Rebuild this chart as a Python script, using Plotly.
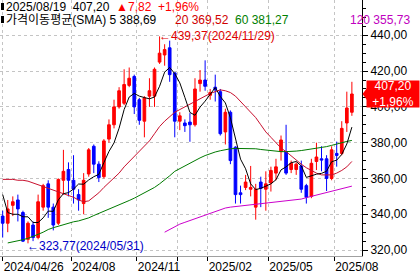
import plotly.graph_objects as go
import pandas as pd

# ---------------- data (weekly candles, 2024/04/26 .. 2025/08/19) ----------------
dates = [d.strftime("%Y/%m/%d") for d in pd.date_range("2024-04-26", periods=69, freq="7D")] + ["2025/08/19"]

opens = [339, 335, 345, 348, 341, 326, 334, 327, 344, 357,
         344, 335, 359, 365, 359, 351, 346, 362.5, 378, 368,
         361, 382, 390, 400, 402, 412, 417, 404, 392, 406,
         406, 425, 429, 433, 419, 392, 391, 391.5, 390, 413,
         415, 406.5, 411, 408.5, 386, 397, 377.5, 352, 355, 354,
         344, 358, 354, 357.5, 363, 375, 375, 365, 365, 367,
         356, 350, 369.5, 371, 371, 360, 374, 374, 391, 397]
highs = [342, 348, 350, 351, 342, 336, 336, 351, 357, 359,
         346, 360, 376, 369, 373, 354, 363, 377, 379, 369.6,
         382, 393, 404, 411, 421, 422, 418, 405, 406, 416,
         422, 439.37, 435, 437, 419, 397, 393, 396.5, 416, 420.6,
         426, 410, 418, 410, 399, 398, 378, 356, 362, 367,
         357, 361, 364, 366.6, 371, 384, 390, 370, 369, 370,
         357, 371, 380, 378, 373, 378, 380.6, 392, 408.5, 414]
lows = [327, 330, 339, 336, 324.5, 323.77, 325, 326, 342, 338,
        331, 334, 351, 350, 346, 342, 340, 361, 363, 358,
        360, 380, 388, 399, 401, 411, 396, 390, 383, 400,
        400, 424, 423, 414, 383, 387, 386, 380.5, 389, 408.5,
        409, 404, 403, 384, 379, 368, 346, 346, 353.5, 350,
        337, 344, 342, 352.7, 359, 370, 362, 363, 362, 352,
        346, 349, 364.7, 364, 353, 359, 366.6, 373, 386, 395]
closes = [335, 343, 347, 343, 325, 335, 327, 347, 356, 344,
          334, 359.5, 364, 359, 354, 348, 359, 376, 368, 360.5,
          381, 390, 400, 409, 412.5, 416, 400, 392.5, 405, 409,
          421, 430, 432, 418, 392, 395, 389.5, 390, 410, 415,
          411.5, 408, 409.5, 385, 397, 370, 351, 351, 358, 355,
          354, 354.5, 357, 364.5, 366.5, 381.5, 363, 368.5, 368, 354,
          349.5, 368.5, 372, 370.3, 360, 376, 372.87, 388, 399.38, 407.2]

# moving averages (SMA5 head read, rest from closes)
ma5_head = [351, 341, 340, 340]
ma20 = [359.5, 359.5, 359.5, 359, 359, 358.5, 357.5, 356.5, 355.5, 354.5,
        353.5, 352.5, 351.5, 350.5, 349.5, 348, 347, 347.5, 349.5, 352,
        355, 357.5, 360, 363, 366.5, 369.5, 372.5, 375, 378, 381,
        385, 389, 392, 394.5, 397, 398.5, 400, 401.5, 403, 404.5,
        406, 407.5, 408.5, 409.5, 409, 408, 406, 403, 400.5, 397.5,
        394, 390, 386, 383, 380, 377, 375, 372.5, 370, 368,
        366, 364.5, 363, 362, 362, 362, 363, 364.5, 366.5, 369.52]
ma60 = [None, 324, 324.5, 325, 325.8, 326.6, 327.5, 328.8, 330, 331.5,
        332.5, 333.3, 334.5, 335.2, 335.8, 336.3, 337, 338, 339.3, 340.5,
        341.5, 342.5, 343.8, 345, 346.3, 347.7, 349, 350.5, 352, 353.6,
        355, 357, 359, 361.5, 364, 365.5, 367, 368.8, 370.3, 371.5,
        372.8, 374, 374.8, 375.5, 376.2, 376.6, 376.8, 376.8, 376.8, 376.8,
        376.6, 376.2, 375.8, 375.5, 375.2, 375, 375, 375, 375.3, 375.6,
        376, 376.4, 376.8, 377.2, 377.8, 378.5, 379.3, 380, 380.7, 381.27]
ma120 = [None] * 32 + [330, 331.5, 333, 334.5, 335.5, 336.5, 337.5, 338.5,
        339.5, 340.5, 341.5, 342.5, 343.5, 344, 344.3, 344.6, 344.9, 345.2,
        345.5, 345.8, 346, 346.3, 346.6, 347, 347.3, 347.6, 348, 348.5,
        349.3, 350, 350.8, 351.5, 352.2, 353, 353.7, 354.3, 355, 355.73]

tick_labels = ["2024/04/26", "2024/08", "2024/11", "", "2025/02", "2025/05", "2025/08"]
tick_index = [0, 14, 27, 35, 41, 53, 66]
y_ticks = [320, 340, 360, 380, 400, 420, 440]

# ---------------- derived ----------------
idx = list(range(len(closes)))
ma5 = ma5_head + pd.Series(closes).rolling(5).mean().round(2).tolist()[4:]
tick_pos = [tick_index[0]] + [t - 0.5 for t in tick_index[1:]]

PW, PH = 362, 256  # plot area size in px
def px(x):
    return x / PW
def py(y):
    return 1 - y / PH

FONT = "Liberation Sans, Noto Sans CJK KR, sans-serif"

fig = go.Figure()
fig.add_trace(go.Candlestick(
    x=idx, open=opens, high=highs, low=lows, close=closes,
    increasing=dict(line=dict(color="#FF0000", width=1), fillcolor="#FF0000"),
    decreasing=dict(line=dict(color="#0000FF", width=1), fillcolor="#0000FF"),
    whiskerwidth=0, hoverinfo="skip", text=dates))
fig.add_trace(go.Scatter(x=idx, y=ma120, mode="lines", line=dict(color="#CC00CC", width=1), hoverinfo="skip"))
fig.add_trace(go.Scatter(x=idx, y=ma60, mode="lines", line=dict(color="#007A00", width=1), hoverinfo="skip"))
fig.add_trace(go.Scatter(x=idx, y=ma20, mode="lines", line=dict(color="#C8102E", width=1), hoverinfo="skip"))
fig.add_trace(go.Scatter(x=idx, y=ma5, mode="lines", line=dict(color="#000000", width=1), hoverinfo="skip"))

last_close = closes[-1]
chg = closes[-1] - closes[-2]
pct = chg / closes[-2] * 100
fmt = lambda v: f"{v:.2f}".replace(".", ",")
nb = "\u00a0"

hi_i = highs.index(max(highs))
lo_i = lows.index(min(lows))

annotations = [
    dict(xref="paper", yref="paper", x=px(4), y=py(7), xanchor="left", yanchor="middle",
         text=f"{dates[-1]}{nb}{nb}{fmt(last_close)}{nb}{nb}<span style='color:#FF0000'>▲{fmt(chg)}{nb}{nb}+{fmt(pct)}%</span>",
         showarrow=False, font=dict(family=FONT, size=12, color="#000000")),
    dict(xref="paper", yref="paper", x=px(4), y=py(20), xanchor="left", yanchor="middle",
         text=f"가격이동평균(SMA){nb}5{nb}{fmt(ma5[-1])}", showarrow=False,
         font=dict(family=FONT, size=12, color="#000000")),
    dict(xref="paper", yref="paper", x=px(173), y=py(20), xanchor="left", yanchor="middle",
         text=f"20{nb}{fmt(ma20[-1])}", showarrow=False, font=dict(family=FONT, size=12, color="#D00000")),
    dict(xref="paper", yref="paper", x=px(233), y=py(20), xanchor="left", yanchor="middle",
         text=f"60{nb}{fmt(ma60[-1])}", showarrow=False, font=dict(family=FONT, size=12, color="#008000")),
    dict(xref="paper", yref="paper", x=px(348), y=py(20), xanchor="left", yanchor="middle",
         text=f"120{nb}{fmt(ma120[-1])}", showarrow=False, font=dict(family=FONT, size=12, color="#C000C0")),
    dict(x=hi_i, y=highs[hi_i], xanchor="left", yanchor="middle", xshift=-3,
         text=f"←{fmt(highs[hi_i])}({dates[hi_i]})", showarrow=False,
         font=dict(family=FONT, size=12, color="#E00000")),
    dict(x=lo_i, y=lows[lo_i], xanchor="left", yanchor="middle", xshift=-3, yshift=-3,
         text=f"←{fmt(lows[lo_i])}({dates[lo_i]})", showarrow=False,
         font=dict(family=FONT, size=12, color="#0000C8")),
    dict(xref="paper", yref="y", x=px(366), y=last_close, xanchor="left", yanchor="middle",
         text=f"{fmt(last_close)}<br>+{fmt(pct)}%", showarrow=False, bgcolor="#FF0000",
         width=52, height=26, borderpad=0, align="center",
         font=dict(family=FONT, size=12, color="#FFFFFF")),
]

h = 6 / 1.79
shapes = [
    dict(type="rect", xref="paper", yref="paper", x0=px(1), x1=px(4), y0=py(3), y1=py(10),
         fillcolor="#000000", line=dict(width=0)),
    dict(type="rect", xref="paper", yref="paper", x0=px(1), x1=px(4), y0=py(16), y1=py(23),
         fillcolor="#000000", line=dict(width=0)),
    dict(type="path", xref="paper", yref="y",
         path=f"M {px(362.5)} {last_close} L {px(367)} {last_close + h} L {px(367)} {last_close - h} Z",
         fillcolor="#FF0000", line=dict(width=0)),
]

fig.update_layout(
    width=420, height=273,
    margin=dict(l=0, r=58, t=0, b=17),
    paper_bgcolor="#FFFFFF", plot_bgcolor="#FFFFFF",
    showlegend=False, separators=",.",
    boxgap=0.25,
    annotations=annotations, shapes=shapes,
    font=dict(family=FONT, size=12, color="#000000"),
    xaxis=dict(range=[-0.53, 71.0], rangeslider=dict(visible=False),
               tickvals=tick_pos, ticktext=tick_labels, ticklabelposition="outside right",
               ticks="outside", ticklen=4, tickcolor="#000000",
               showgrid=True, gridcolor="#C4C4C4", griddash="3px,3px", gridwidth=1,
               showline=True, linecolor="#A0A0A0", linewidth=1, zeroline=False,
               tickfont=dict(family=FONT, size=12, color="#000000")),
    yaxis=dict(range=[316.7, 459.7], side="right", tickvals=y_ticks, tickformat=".2f",
               ticks="outside", ticklen=5, tickcolor="#000000",
               minor=dict(dtick=5, ticks="outside", ticklen=3, tickcolor="#000000", showgrid=False),
               showgrid=True, gridcolor="#C4C4C4", griddash="3px,3px", gridwidth=1,
               showline=True, linecolor="#000000", linewidth=1, zeroline=False,
               tickfont=dict(family=FONT, size=12, color="#000000")),
)

fig.write_html("out.html")
